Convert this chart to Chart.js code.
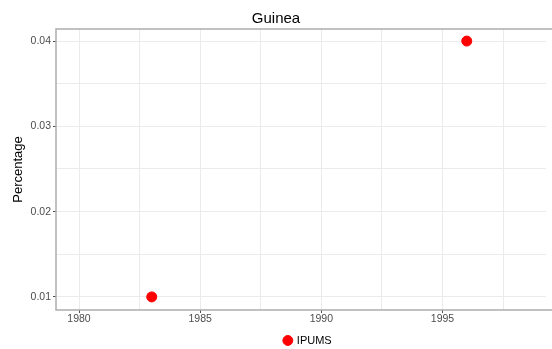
<!DOCTYPE html>
<html>
<head>
<meta charset="utf-8">
<script src="https://cdn.jsdelivr.net/npm/chart.js@4"></script>
<style>
  html, body { margin: 0; padding: 0; background: #fff; }
  #wrap { width: 552px; height: 349px; }
</style>
</head>
<body>
<div id="wrap"><canvas id="guineaChart"></canvas></div>
<script>

const years = [1983, 1996];
const percentages = [0.01, 0.04];
const seriesName = 'IPUMS';
const xTicks = [1980, 1982.5, 1985, 1987.5, 1990, 1992.5, 1995, 1997.5];
const yTicks = [0.01, 0.015, 0.02, 0.025, 0.03, 0.035, 0.04];

Chart.defaults.font.family = '"Liberation Sans", Arial, sans-serif';

// ggplot-style panel border (right edge runs off the canvas)
const panelBorder = {
    id: 'panelBorder',
    afterDraw(chart) {
        const a = chart.chartArea;
        const ctx = chart.ctx;
        ctx.save();
        ctx.strokeStyle = '#adadad';
        ctx.lineWidth = 1.5;
        ctx.strokeRect(a.left, a.top, a.right - a.left + 30, a.bottom - a.top);
        ctx.restore();
    }
};

// legend sits a little right of centre, under the (wider) panel
const legendShift = {
    id: 'legendShift',
    afterLayout(chart) {
        if (chart.legend) {
            chart.legend.left += 7;
            chart.legend.right += 7;
        }
    }
};

const points = years.map((y, i) => ({ x: y, y: percentages[i] }));

const config = {
    type: 'scatter',
    data: {
        datasets: [{
            label: seriesName,
            data: points,
            backgroundColor: '#ff0000',
            borderColor: '#ff0000',
            pointRadius: 5,
            pointHoverRadius: 5,
            pointStyle: 'circle'
        }]
    },
    options: {
        responsive: true,
        maintainAspectRatio: false,
        animation: false,
        layout: { padding: { left: 0, right: 0, top: 0, bottom: -7 } },
        scales: {
            x: {
                type: 'linear',
                min: 1979.05,
                max: 1999.27,
                afterBuildTicks(scale) {
                    scale.ticks = xTicks.map(v => ({ value: v }));
                },
                afterFit(scale) { scale.height = 20; },
                ticks: {
                    autoSkip: false,
                    maxRotation: 0,
                    color: '#4d4d4d',
                    font: { size: 10.5 },
                    padding: 0,
                    callback: v => (v % 5 === 0 ? String(v) : '')
                },
                grid: {
                    color: '#ebebeb',
                    lineWidth: 1,
                    tickLength: 3,
                    tickColor: c => (c.tick && c.tick.value % 5 === 0 ? '#4d4d4d' : 'rgba(0,0,0,0)')
                },
                border: { display: false }
            },
            y: {
                min: 0.008465,
                max: 0.041417,
                afterBuildTicks(scale) {
                    scale.ticks = yTicks.map(v => ({ value: v }));
                },
                afterFit(scale) { scale.width = 56; },
                title: {
                    display: true,
                    text: 'Percentage',
                    color: '#000',
                    font: { size: 13 },
                    padding: { top: 11, bottom: 0 }
                },
                ticks: {
                    autoSkip: false,
                    color: '#4d4d4d',
                    font: { size: 10.5 },
                    padding: 2,
                    callback: v => {
                        const r = Math.round(v * 1000);
                        return r % 10 === 0 ? (v).toFixed(2) : '';
                    }
                },
                grid: {
                    color: '#ebebeb',
                    lineWidth: 1,
                    tickLength: 3,
                    tickColor: c => (c.tick && Math.round(c.tick.value * 1000) % 10 === 0 ? '#4d4d4d' : 'rgba(0,0,0,0)')
                },
                border: { display: false }
            }
        },
        plugins: {
            title: {
                display: true,
                text: 'Guinea',
                color: '#000',
                font: { size: 15, weight: 'normal' },
                padding: { top: 10, bottom: 1 }
            },
            legend: {
                position: 'bottom',
                fullSize: false,
                labels: {
                    usePointStyle: true,
                    boxWidth: 7,
                    boxHeight: 7,
                    color: '#000',
                    font: { size: 11 },
                    padding: 5
                }
            },
            tooltip: { enabled: false }
        }
    },
    plugins: [panelBorder, legendShift]
};

const myChart = new Chart(
    document.getElementById('guineaChart'),
    config
);

</script>
</body>
</html>
